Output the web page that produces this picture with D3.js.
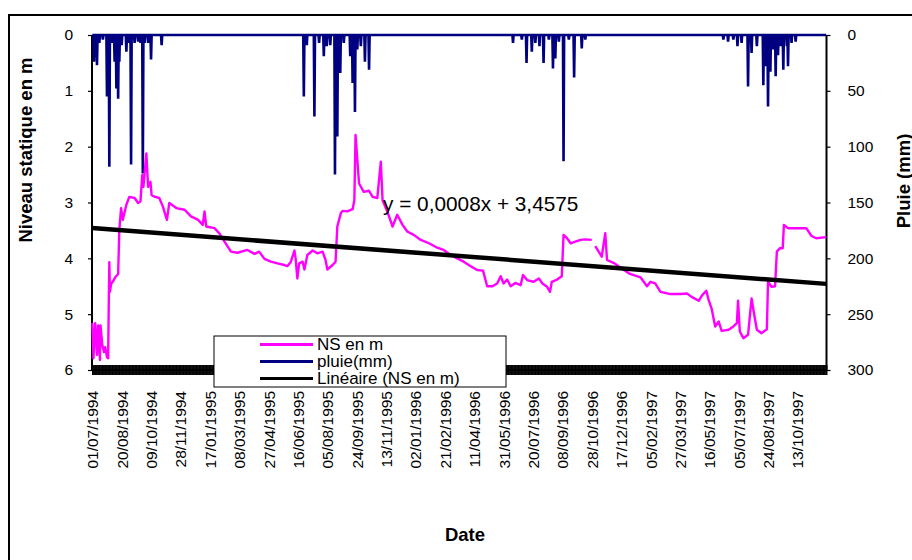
<!DOCTYPE html>
<html>
<head>
<meta charset="utf-8">
<script src="https://cdn.jsdelivr.net/npm/d3@7/dist/d3.min.js"></script>
<style>
  html, body { margin: 0; padding: 0; background: #fff; }
  svg { display: block; font-family: "Liberation Sans", Arial, sans-serif; }
</style>
</head>
<body>
<svg id="chart" width="912" height="560"></svg>
<script>
// Daily categories starting 01/07/1994
const N_DAYS = 1250;
const xTickStep = 50;
const xTickLabels = ["01/07/1994","20/08/1994","09/10/1994","28/11/1994","17/01/1995","08/03/1995",
  "27/04/1995","16/06/1995","05/08/1995","24/09/1995","13/11/1995","02/01/1996","21/02/1996",
  "11/04/1996","31/05/1996","20/07/1996","08/09/1996","28/10/1996","17/12/1996","05/02/1997",
  "27/03/1997","16/05/1997","05/07/1997","24/08/1997","13/10/1997"];
const levelTicks = [0, 1, 2, 3, 4, 5, 6];
const rainTicks = [0, 50, 100, 150, 200, 250, 300];

// Static water level (m), [day index, level]; null = missing reading
const nsReadings = [[0,5.16],[2,5.79],[5,5.16],[8,5.73],[10,5.2],[13,5.82],[14,5.2],[17,5.55],[20,5.68],
  [22,5.59],[25,5.77],[27,5.79],[28,4.84],[29,4.07],[30,4.6],[32,4.46],[36,4.4],[39,4.34],[44,4.28],
  [46,3.49],[49,3.1],[52,3.31],[58,3.04],[63,2.9],[72,2.92],[78,3.01],[82,2.98],[85,2.51],[87,2.72],
  [92,2.12],[95,2.72],[99,2.63],[101,2.87],[107,2.9],[114,2.92],[120,3.07],[127,3.31],[131,3.01],
  [143,3.1],[157,3.13],[168,3.25],[180,3.31],[188,3.4],[191,3.16],[194,3.43],[208,3.46],[216,3.55],
  [225,3.7],[236,3.88],[247,3.9],[264,3.85],[276,3.92],[284,3.88],[293,4.01],[304,4.06],[315,4.09],
  [327,4.12],[332,4.14],[338,4.06],[344,3.86],[346,4.0],[349,4.36],[352,4.09],[358,4.06],[361,4.2],
  [366,3.94],[375,3.86],[383,3.91],[392,3.88],[397,4.03],[400,4.2],[409,4.12],[414,4.06],[417,3.43],
  [423,3.19],[426,3.15],[434,3.16],[443,3.12],[446,2.96],[448,1.79],[454,2.66],[462,2.81],[471,2.79],
  [477,2.9],[485,2.92],[491,2.27],[494,2.96],[502,3.16],[511,3.43],[519,3.22],[528,3.4],[536,3.52],
  [547,3.58],[559,3.67],[573,3.73],[587,3.81],[598,3.85],[610,3.94],[621,4.0],[632,4.06],[644,4.14],
  [655,4.21],[665,4.22],[672,4.5],[681,4.5],[689,4.45],[695,4.32],[700,4.45],[706,4.38],[712,4.5],
  [720,4.44],[729,4.48],[733,4.3],[740,4.39],[751,4.42],[760,4.36],[766,4.45],[774,4.51],[779,4.6],
  [782,4.42],[791,4.38],[799,4.32],[802,3.58],[808,3.64],[814,3.73],[822,3.7],[831,3.67],[839,3.66],
  [850,3.67],[852,null],[856,3.78],[867,3.97],[873,3.55],[876,4.03],[887,4.08],[898,4.16],[915,4.28],
  [933,4.34],[944,4.5],[950,4.42],[958,4.45],[967,4.6],[984,4.64],[1001,4.64],[1012,4.63],[1020,4.69],
  [1032,4.76],[1038,4.66],[1045,4.58],[1049,4.75],[1054,4.9],[1060,5.22],[1066,5.13],[1071,5.3],
  [1083,5.28],[1091,5.22],[1097,5.16],[1099,4.76],[1102,5.31],[1108,5.43],[1116,5.37],[1122,4.72],
  [1126,4.98],[1131,5.28],[1139,5.34],[1148,5.27],[1150,4.42],[1156,4.51],[1162,4.5],[1165,3.88],
  [1170,3.82],[1175,3.82],[1177,3.4],[1184,3.46],[1199,3.46],[1215,3.46],[1224,3.6],[1232,3.64],
  [1249,3.62]];

// Rainy days (mm), [day index, rain]; every other day had no rain
const rainEvents = [[3,24],[6,20],[8,27],[12,7],[18,4],[25,55],[29,118],[34,7],[38,24],[41,48],[44,57],
  [46,24],[50,9],[58,15],[61,7],[66,116],[72,7],[78,6],[82,7],[86,124],[89,7],[95,7],[100,22],[118,9],
  [360,55],[365,9],[378,73],[386,7],[394,19],[399,10],[405,9],[413,125],[417,91],[422,34],[428,7],
  [439,19],[443,43],[447,69],[451,13],[457,10],[464,24],[471,31],
  [716,7],[731,4],[739,25],[748,15],[754,7],[761,10],[768,25],[777,4],[784,30],[788,21],[794,6],
  [802,113],[811,4],[820,38],[833,12],[839,4],
  [1074,4],[1082,6],[1091,4],[1098,10],[1105,7],[1116,46],[1122,16],[1131,10],[1142,45],[1146,28],
  [1150,64],[1154,33],[1159,13],[1163,37],[1167,18],[1171,10],[1176,31],[1182,10],[1184,28],[1190,7],
  [1197,6]];

// Linear trend of the level series (x = day number starting at 1)
const trendSlope = 0.0008;
const trendIntercept = 3.4575;

const NS_COLOR = "#ff00ff", RAIN_COLOR = "#000080";

const svg = d3.select("#chart");
const plot = { left: 92, right: 826.5, top: 35, bottom: 370 };

// Outer chart frame
svg.append("rect").attr("x", 9).attr("y", 15).attr("width", 920).attr("height", 560)
  .attr("fill", "#fff").attr("stroke", "#000").attr("stroke-width", 2);

const x = d3.scaleLinear().domain([0, N_DAYS]).range([plot.left, plot.right]);
const cx = d => x(d + 0.5);
const yL = d3.scaleLinear().domain([0, 6]).range([plot.top, plot.bottom]);
const yR = d3.scaleLinear().domain([0, 300]).range([plot.top, plot.bottom]);

// Daily rain series
const rainByDay = new Map(rainEvents);
const rainDaily = d3.range(N_DAYS).map(d => [d, rainByDay.get(d) || 0]);

// Category tick band along the bottom axis (one tick per day)
const band = svg.append("g").attr("transform", `translate(0,${plot.bottom - 5})`)
  .call(d3.axisBottom(x).tickValues(d3.range(0, N_DAYS + 1)).tickSize(10).tickFormat(""));
band.select(".domain").remove();
band.selectAll(".tick line").attr("stroke", "#000").attr("stroke-width", 1);

// Bottom axis line
svg.append("line").attr("x1", plot.left).attr("x2", plot.right)
  .attr("y1", plot.bottom).attr("y2", plot.bottom).attr("stroke", "#000").attr("stroke-width", 2);

// Date labels
const labelAxis = svg.append("g").attr("transform", `translate(0,${plot.bottom})`)
  .call(d3.axisBottom(x)
    .tickValues(xTickLabels.map((_, i) => i * xTickStep + 0.5))
    .tickSize(0)
    .tickFormat((_, i) => xTickLabels[i]));
labelAxis.select(".domain").remove();
labelAxis.selectAll("text")
  .attr("font-size", 15.5).attr("fill", "#000")
  .attr("text-anchor", "end")
  .attr("dy", null).attr("y", 0)
  .attr("dominant-baseline", "central")
  .attr("transform", "translate(0,21) rotate(-90)");

// Left axis
const leftAxis = svg.append("g").attr("transform", `translate(${plot.left},0)`)
  .call(d3.axisLeft(yL).tickValues(levelTicks).tickSize(4).tickPadding(15).tickFormat(d3.format("d")));
leftAxis.select(".domain").attr("stroke-width", 2).attr("d", `M0,${plot.top}V${plot.bottom}`);
leftAxis.selectAll(".tick line").attr("stroke-width", 1.2);
leftAxis.selectAll("text").attr("font-size", 15.5).attr("fill", "#000");

// Right axis
const rightAxis = svg.append("g").attr("transform", `translate(${plot.right},0)`)
  .call(d3.axisRight(yR).tickValues(rainTicks).tickSize(4).tickPadding(17).tickFormat(d3.format("d")));
rightAxis.select(".domain").attr("stroke-width", 2).attr("d", `M0,${plot.top}V${plot.bottom}`);
rightAxis.selectAll(".tick line").attr("stroke-width", 1.2);
rightAxis.selectAll("text").attr("font-size", 15.5).attr("fill", "#000");

// Rain series
svg.append("path").datum(rainDaily)
  .attr("fill", "none").attr("stroke", RAIN_COLOR).attr("stroke-width", 2.6)
  .attr("stroke-linejoin", "miter")
  .attr("d", d3.line().x(d => cx(d[0])).y(d => yR(d[1])));

// Static level series
svg.append("path").datum(nsReadings)
  .attr("fill", "none").attr("stroke", NS_COLOR).attr("stroke-width", 2.4)
  .attr("stroke-linejoin", "round")
  .attr("d", d3.line().defined(d => d[1] !== null).x(d => cx(d[0])).y(d => yL(d[1])));

// Linear trend
const trendEnds = [0, N_DAYS - 1];
svg.append("path").datum(trendEnds)
  .attr("fill", "none").attr("stroke", "#000").attr("stroke-width", 4.5)
  .attr("d", d3.line().x(d => cx(d)).y(d => yL(trendIntercept + trendSlope * (d + 1))));

// Trend equation
svg.append("text").attr("x", 383).attr("y", 211)
  .attr("font-size", 20.8).attr("fill", "#000")
  .text("y = 0,0008x + 3,4575");

// Axis titles
svg.append("text").attr("transform", "translate(32,150) rotate(-90)")
  .attr("text-anchor", "middle").attr("font-size", 18.5).attr("font-weight", "bold")
  .text("Niveau statique en m");
svg.append("text").attr("transform", "translate(910,181) rotate(-90)")
  .attr("text-anchor", "middle").attr("font-size", 18.5).attr("font-weight", "bold")
  .text("Pluie (mm)");
svg.append("text").attr("x", 465).attr("y", 541)
  .attr("text-anchor", "middle").attr("font-size", 18.5).attr("font-weight", "bold")
  .text("Date");

// Legend
const legendItems = [
  { label: "NS en m", color: NS_COLOR },
  { label: "pluie(mm)", color: RAIN_COLOR },
  { label: "Linéaire (NS en m)", color: "#000" }
];
const legend = svg.append("g");
legend.append("rect").attr("x", 214).attr("y", 336).attr("width", 292).attr("height", 51)
  .attr("fill", "#fff").attr("stroke", "#000").attr("stroke-width", 1);
const rows = legend.selectAll("g.row").data(legendItems).join("g")
  .attr("transform", (d, i) => `translate(0,${344.5 + i * 17})`);
rows.append("line").attr("x1", 260).attr("x2", 313).attr("y1", 0).attr("y2", 0)
  .attr("stroke", d => d.color).attr("stroke-width", 2.8);
rows.append("text").attr("x", 317).attr("y", 0).attr("dominant-baseline", "central")
  .attr("font-size", 17).attr("fill", "#000").text(d => d.label);
</script>
</body>
</html>
